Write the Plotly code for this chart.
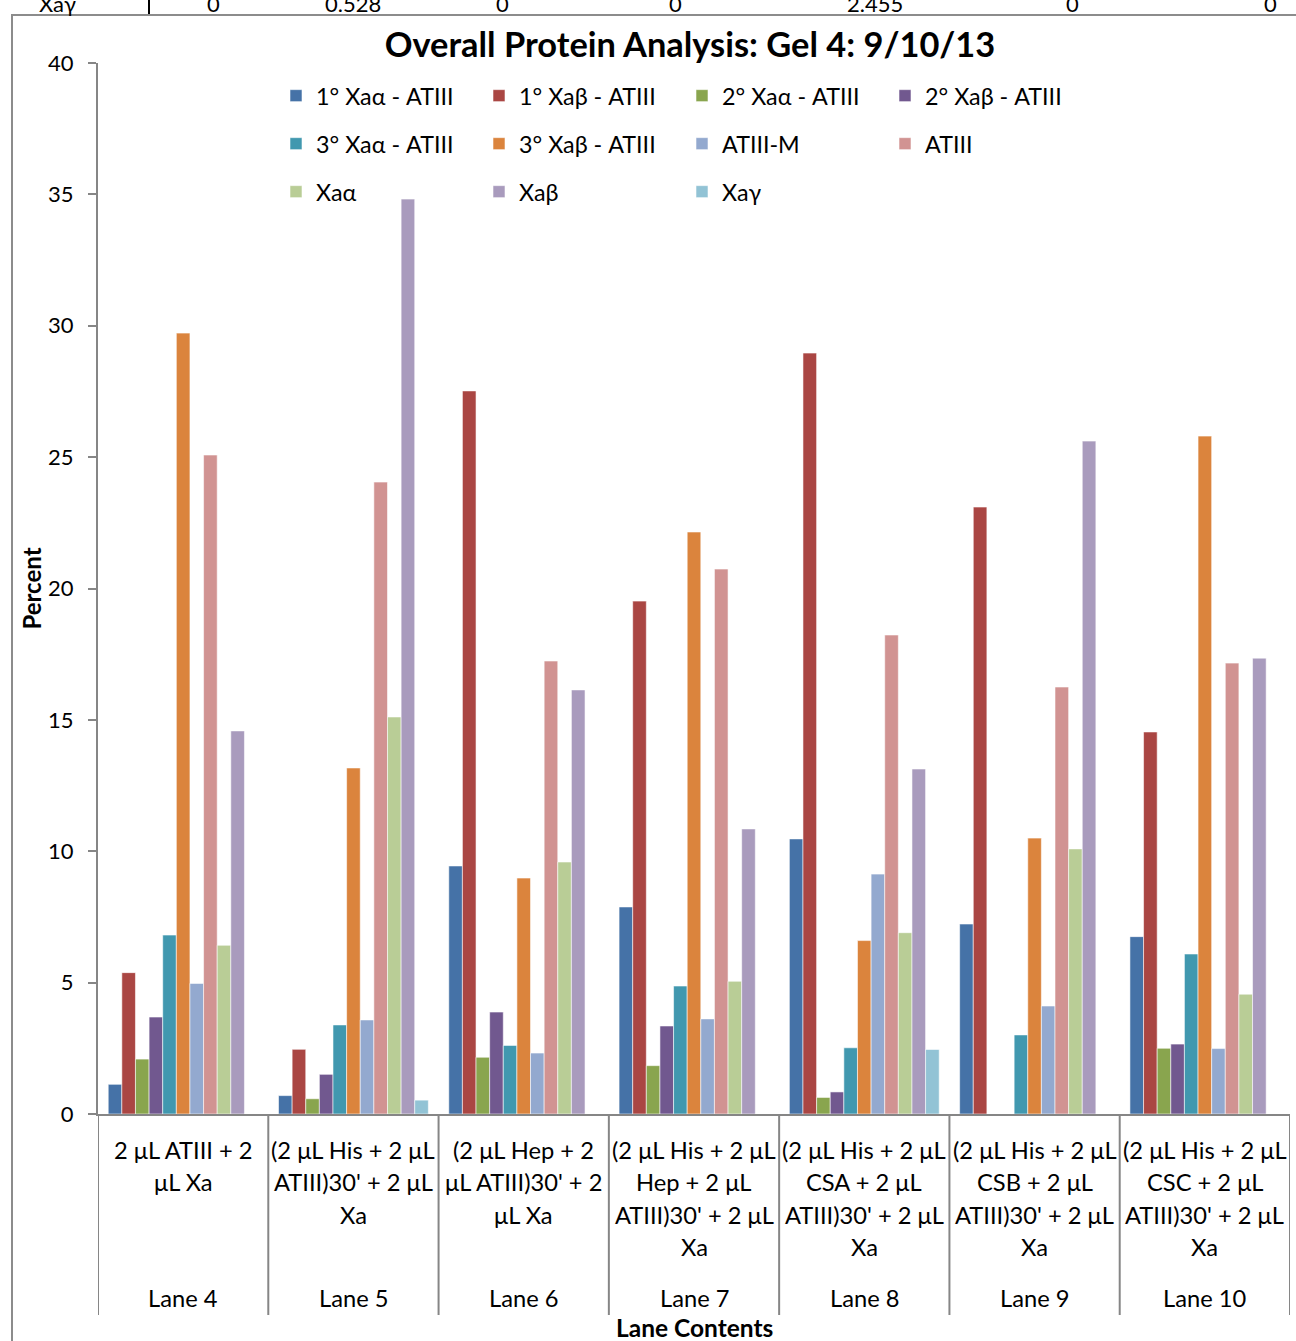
import plotly.graph_objects as go

# ---------------- data ----------------
lane_names = ["Lane 4", "Lane 5", "Lane 6", "Lane 7", "Lane 8", "Lane 9", "Lane 10"]
lane_contents = [
    "2 μL ATIII + 2<br>μL Xa",
    "(2 μL His + 2 μL<br>ATIII)30' + 2 μL<br>Xa",
    "(2 μL Hep + 2<br>μL ATIII)30' + 2<br>μL Xa",
    "(2 μL His + 2 μL<br>Hep + 2 μL<br>ATIII)30' + 2 μL<br>Xa",
    "(2 μL His + 2 μL<br>CSA + 2 μL<br>ATIII)30' + 2 μL<br>Xa",
    "(2 μL His + 2 μL<br>CSB + 2 μL<br>ATIII)30' + 2 μL<br>Xa",
    "(2 μL His + 2 μL<br>CSC + 2 μL<br>ATIII)30' + 2 μL<br>Xa",
]

series_names = ["1° Xaα - ATIII", "1° Xaβ - ATIII", "2° Xaα - ATIII", "2° Xaβ - ATIII",
                "3° Xaα - ATIII", "3° Xaβ - ATIII", "ATIII-M", "ATIII",
                "Xaα", "Xaβ", "Xaγ"]

v_1_xaa_atiii = [1.13, 0.70, 9.44, 7.88, 10.47, 7.23, 6.75]
v_1_xab_atiii = [5.38, 2.46, 27.52, 19.52, 28.96, 23.10, 14.54]
v_2_xaa_atiii = [2.09, 0.58, 2.16, 1.84, 0.63, 0.0, 2.50]
v_2_xab_atiii = [3.69, 1.51, 3.88, 3.35, 0.84, 0.0, 2.66]
v_3_xaa_atiii = [6.81, 3.39, 2.61, 4.87, 2.52, 3.01, 6.09]
v_3_xab_atiii = [29.72, 13.17, 8.98, 22.15, 6.60, 10.50, 25.80]
v_atiii_m = [4.97, 3.58, 2.32, 3.62, 9.13, 4.11, 2.49]
v_atiii = [25.08, 24.05, 17.24, 20.74, 18.23, 16.25, 17.16]
v_xaa = [6.42, 15.11, 9.59, 5.05, 6.90, 10.09, 4.56]
v_xab = [14.58, 34.82, 16.14, 10.85, 13.13, 25.61, 17.35]
v_xag = [0, 0.528, 0, 0, 2.455, 0, 0]

series_values = [v_1_xaa_atiii, v_1_xab_atiii, v_2_xaa_atiii, v_2_xab_atiii,
                 v_3_xaa_atiii, v_3_xab_atiii, v_atiii_m, v_atiii, v_xaa, v_xab, v_xag]

colors = ["#4572A7", "#AA4643", "#89A54E", "#71588F", "#4198AF", "#DB843D",
          "#93A9CF", "#D19392", "#B9CD96", "#A99BBD", "#92C3D5"]

table_row_label = "Xaγ"
table_row_values = ["0", "0.528", "0", "0", "2.455", "0", "0"]

# ---------------- layout helpers ----------------
W, H = 1296, 1341
L, R, T, B = 98, 6, 63, 227
PW, PH = W - L - R, H - T - B

def px_x(px):
    return (px - L) / PW

def px_y(py):
    return (H - B - py) / PH

FONT = "Lato"
AXIS_GRAY = "#868686"
LABEL_SIZE = 23.7

fig = go.Figure()
legend_ids = ["legend"] * 4 + ["legend2"] * 4 + ["legend3"] * 3
for name, vals, col, lg in zip(series_names, series_values, colors, legend_ids):
    fig.add_trace(go.Bar(
        x=lane_names, y=vals, name=name,
        marker=dict(color=col, line=dict(color="rgba(255,255,255,0.7)", width=0.8)),
        legend=lg,
    ))

legend_common = dict(orientation="h", font=dict(family=FONT, size=23.3, color="#000"),
                     entrywidth=158, itemwidth=30, bgcolor="rgba(0,0,0,0)",
                     xanchor="left", yanchor="middle", traceorder="normal",
                     tracegroupgap=0)

annotations = []
shapes = []

# category labels
for i, (nm, ct) in enumerate(zip(lane_names, lane_contents)):
    for j, line in enumerate(ct.split("<br>")):
        annotations.append(dict(x=i, xref="x", y=px_y(1150 + 32.4 * j), yref="paper",
                                text=line, showarrow=False, xanchor="center", yanchor="middle",
                                font=dict(family=FONT, size=LABEL_SIZE, color="#000")))
    annotations.append(dict(x=i, xref="x", y=px_y(1298), yref="paper",
                            text=nm, showarrow=False, xanchor="center", yanchor="middle",
                            font=dict(family=FONT, size=LABEL_SIZE, color="#000")))

# dividers
for k in range(len(lane_names) + 1):
    shapes.append(dict(type="line", xref="x", yref="paper", x0=k - 0.5, x1=k - 0.5,
                       y0=0, y1=px_y(1315), line=dict(color=AXIS_GRAY, width=2)))

# axis title
annotations.append(dict(x=px_x(694), xref="paper", y=px_y(1327), yref="paper", text="<b>Lane Contents</b>",
                        showarrow=False, xanchor="center", yanchor="middle",
                        font=dict(family=FONT, size=24.5, color="#000")))

# chart frame
shapes.append(dict(type="rect", xref="paper", yref="paper", x0=px_x(12), x1=px_x(1310),
                   y0=px_y(1360), y1=px_y(15), line=dict(color="#8C8C8C", width=2),
                   fillcolor="rgba(0,0,0,0)", layer="below"))

# clipped spreadsheet row above the chart
annotations.append(dict(x=px_x(57), xref="paper", y=px_y(19), yref="paper", text=table_row_label,
                        showarrow=False, xanchor="center", yanchor="bottom",
                        font=dict(family=FONT, size=22, color="#000")))
for i, tv in enumerate(table_row_values):
    annotations.append(dict(x=px_x([213, 353, 502, 675, 875, 1072, 1270][i]), xref="paper",
                            y=px_y(19), yref="paper", text=tv, showarrow=False,
                            xanchor="center", yanchor="bottom",
                            font=dict(family=FONT, size=22, color="#000")))
shapes.append(dict(type="line", xref="paper", yref="paper", x0=px_x(149), x1=px_x(149),
                   y0=px_y(14), y1=px_y(-5), line=dict(color="#000", width=2)))

fig.update_layout(
    width=W, height=H,
    margin=dict(l=L, r=R, t=T, b=B, autoexpand=False),
    paper_bgcolor="white", plot_bgcolor="white",
    barmode="group", bargap=0.12, bargroupgap=0,
    title=dict(text="<b>Overall Protein Analysis: Gel 4: 9/10/13</b>",
               x=px_x(690), xref="paper", xanchor="center",
               y=1 - 45 / H, yref="container", yanchor="middle",
               font=dict(family=FONT, size=34.4, color="#000")),
    xaxis=dict(type="category", range=[-0.5, 6.5], showline=True, linecolor=AXIS_GRAY,
               linewidth=2, showticklabels=False, ticks="", showgrid=False, zeroline=False,
               fixedrange=True),
    yaxis=dict(range=[0, 40], dtick=5, tick0=0, showline=True, linecolor=AXIS_GRAY, linewidth=2,
               ticks="outside", ticklen=8, tickwidth=2, tickcolor=AXIS_GRAY, showgrid=False,
               zeroline=False, ticklabelstandoff=10,
               tickfont=dict(family=FONT, size=22, color="#000"),
               title=dict(text="<b>Percent</b>", standoff=0,
                          font=dict(family=FONT, size=24, color="#000"))),
    legend=dict(x=px_x(276), y=px_y(96), **legend_common),
    legend2=dict(x=px_x(276), y=px_y(144), **legend_common),
    legend3=dict(x=px_x(276), y=px_y(192), **legend_common),
    annotations=annotations,
    shapes=shapes,
    showlegend=True,
)

fig.write_html("out.html", config={"displayModeBar": False},
               post_script="document.body.style.margin='0';document.body.style.overflow='hidden';")
